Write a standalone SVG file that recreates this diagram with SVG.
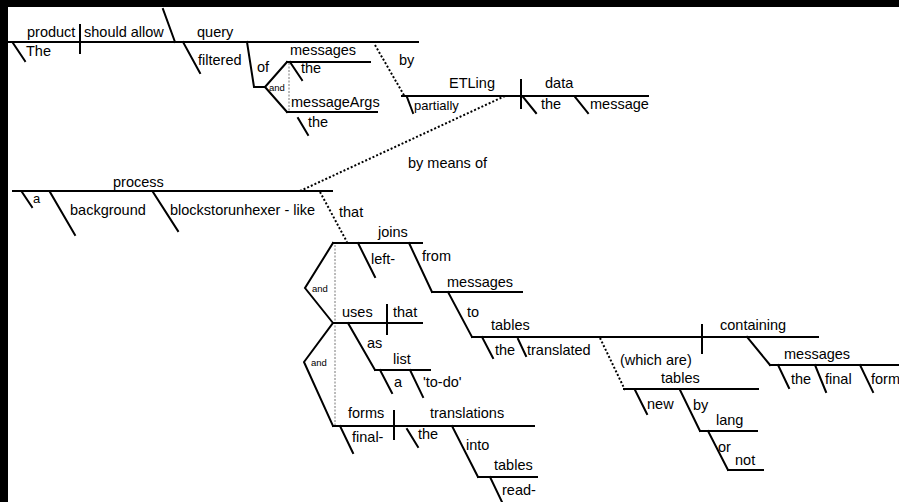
<svg xmlns="http://www.w3.org/2000/svg" width="899" height="502" viewBox="0 0 899 502">
<style>
text{font-family:"Liberation Sans",Arial,sans-serif;font-size:14.5px;fill:#000}
.sm{font-size:13px}
.tiny{font-size:9.5px}
.ln{stroke:#000;stroke-width:2;fill:none;stroke-linecap:square}
.dot{stroke:#000;stroke-width:2;fill:none;stroke-dasharray:2 2}
.gdot{stroke:#777;stroke-width:1;fill:none;stroke-dasharray:2 1.5}
</style>
<rect x="0" y="0" width="899" height="502" fill="#fff"/>
<rect x="0" y="0" width="899" height="7" fill="#000"/>
<rect x="0" y="0" width="8" height="502" fill="#000"/>

<g id="connectors">
<path class="dot" d="M375,45 L405,97"/>
<path class="dot" d="M505,96 L300,191"/>
<path class="dot" d="M320,192 L347,242"/>
<path class="dot" d="M600,338 L625,390"/>
<path class="gdot" d="M289,63 L289,111"/>
<path class="gdot" d="M335,245 L335,425"/>
</g>

<g id="clause1">
<path class="ln" d="M9,42 H418 M80,25 V53 M163,9 L175,42 M13,43 L25,61 M183,42 L200,73 M247,42 L254,87 H265 M265,87 L287,62 M265,87 L287,112 M287,62 H370 M287,112 H377 M290,62 L302,80 M298,118 L308,135"/>
<text x="27" y="37">product</text>
<text x="84" y="37">should allow</text>
<text x="197" y="37">query</text>
<text x="26" y="56">The</text>
<text x="198" y="65">filtered</text>
<text x="257" y="72">of</text>
<text class="tiny" x="269" y="91">and</text>
<text x="290" y="55">messages</text>
<text x="301" y="73">the</text>
<text x="291" y="107">messageArgs</text>
<text x="308" y="127">the</text>
<text x="399" y="65">by</text>
</g>

<g id="etling">
<path class="ln" d="M402,96 H648 M521,80 V108 M407,97 L413,113 M523,97 L536,113 M575,97 L588,113"/>
<text x="449" y="88">ETLing</text>
<text x="545" y="88">data</text>
<text class="sm" x="414" y="110">partially</text>
<text x="541" y="109">the</text>
<text x="590" y="109">message</text>
<text x="408" y="168">by means of</text>
</g>

<g id="process">
<path class="ln" d="M13,191 H332 M22,192 L32,207 M50,192 L75,235 M153,192 L178,231"/>
<text x="113" y="187">process</text>
<text class="sm" x="33" y="203">a</text>
<text x="70" y="215">background</text>
<text x="170" y="215">blockstorunhexer - like</text>
<text x="339" y="217">that</text>
</g>

<g id="compound">
<path class="ln" d="M333,243 L305,288 L333,323 M333,323 L304,362 L333,426"/>
<text class="tiny" x="312" y="292">and</text>
<text class="tiny" x="311" y="366">and</text>
</g>

<g id="joins">
<path class="ln" d="M333,243 H422 M358,243 L375,277 M409,243 L432,292 M432,292 H522 M448,292 L472,337"/>
<text x="378" y="237">joins</text>
<text x="371" y="264">left-</text>
<text x="422" y="261">from</text>
<text x="447" y="287">messages</text>
<text x="467" y="317">to</text>
</g>

<g id="tables">
<path class="ln" d="M472,337 H818 M702,325 V353 M482,337 L493,358 M518,339 L526,356 M624,389 H758 M635,390 L647,414 M680,390 L700,431 M700,431 H757 M708,431 L728,470 M728,470 H763 M747,337 L770,365 M770,365 H899 M778,365 L789,388 M815,365 L826,392 M860,365 L873,392"/>
<text x="491" y="330">tables</text>
<text x="720" y="330">containing</text>
<text x="495" y="355">the</text>
<text x="527" y="355">translated</text>
<text x="620" y="365">(which are)</text>
<text x="661" y="383">tables</text>
<text x="647" y="409">new</text>
<text x="693" y="410">by</text>
<text x="716" y="425">lang</text>
<text x="718" y="452">or</text>
<text x="735" y="465">not</text>
<text x="784" y="359">messages</text>
<text x="791" y="384">the</text>
<text x="825" y="384">final</text>
<text x="871" y="384">form</text>
</g>

<g id="uses">
<path class="ln" d="M333,323 H422 M387,305 V334 M348,323 L375,370 M375,370 H430 M380,370 L392,393 M410,370 L423,397"/>
<text x="342" y="317">uses</text>
<text x="393" y="317">that</text>
<text x="367" y="348">as</text>
<text x="393" y="364">list</text>
<text x="394" y="387">a</text>
<text x="423" y="387">'to-do'</text>
</g>

<g id="forms">
<path class="ln" d="M333,426 H534 M394,411 V439 M340,426 L353,453 M407,429 L418,447 M452,426 L478,477 M478,477 H537 M490,477 L502,502"/>
<text x="348" y="418">forms</text>
<text x="430" y="418">translations</text>
<text x="352" y="442">final-</text>
<text x="418" y="439">the</text>
<text x="466" y="450">into</text>
<text x="494" y="470">tables</text>
<text x="502" y="495">read-</text>
</g>
</svg>
